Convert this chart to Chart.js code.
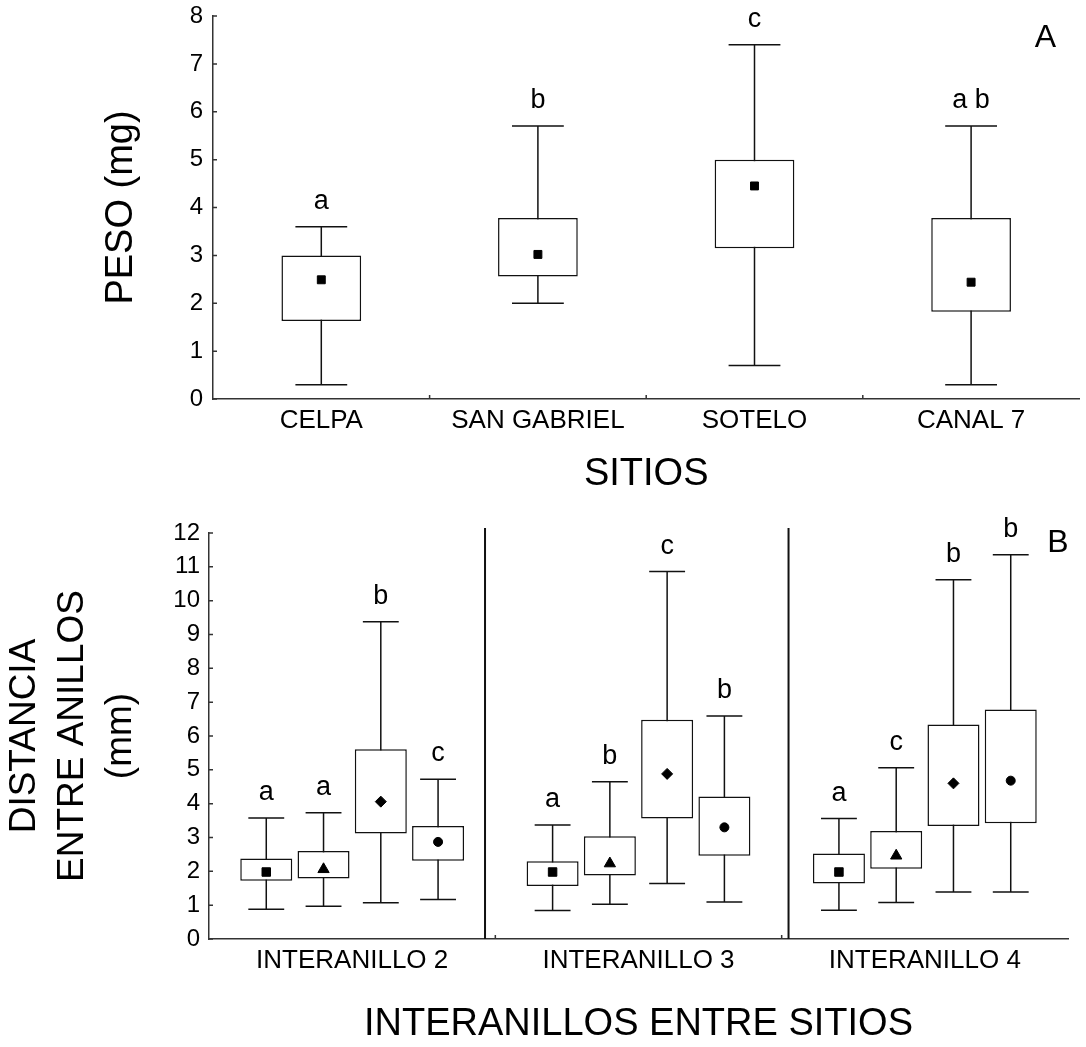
<!DOCTYPE html>
<html lang="es">
<head>
<meta charset="UTF-8">
<title>Peso y distancia entre anillos por sitio</title>
<script src="https://cdn.jsdelivr.net/npm/chart.js"></script>
<style>
  html, body { margin: 0; padding: 0; background: #fff; }
  .panel { position: absolute; left: 0; width: 1086px; }
  #panelA { top: 0; height: 500px; }
  #panelB { top: 490px; height: 557px; }
</style>
</head>
<body>
<div class="panel" id="panelA"><canvas id="pesoChart"></canvas></div>
<div class="panel" id="panelB"><canvas id="distChart"></canvas></div>

<script>
// --- Panel A: peso (mg) por sitio ---
const sitios = ['CELPA', 'SAN GABRIEL', 'SOTELO', 'CANAL 7'];
const pesoMin = [0.3, 2.0, 0.7, 0.3];
const pesoQ1 = [1.63, 2.56, 3.15, 1.82];
const pesoQ3 = [3.0, 3.78, 5.0, 3.78];
const pesoMax = [3.6, 5.7, 7.4, 5.7];
const pesoMedia = [2.49, 3.02, 4.45, 2.44];
const pesoLetras = ['a', 'b', 'c', 'a b'];

// --- Panel B: distancia entre anillos (mm), 4 sitios por interanillo ---
const interanillos = ['INTERANILLO 2', 'INTERANILLO 3', 'INTERANILLO 4'];
const distMin = [0.88, 0.97, 1.07, 1.17, 0.84, 1.03, 1.64, 1.09, 0.85, 1.08, 1.39, 1.39];
const distQ1 = [1.72, 1.79, 3.12, 2.31, 1.57, 1.88, 3.56, 2.46, 1.64, 2.08, 3.34, 3.42];
const distQ3 = [2.38, 2.60, 5.61, 3.34, 2.30, 3.04, 6.48, 4.21, 2.53, 3.19, 6.34, 6.78];
const distMax = [3.58, 3.73, 9.38, 4.72, 3.37, 4.65, 10.86, 6.59, 3.56, 5.06, 10.62, 11.36];
const distMedia = [1.98, 2.06, 4.06, 2.87, 1.98, 2.23, 4.88, 3.30, 1.98, 2.46, 4.60, 4.68];
const distLetras = ['a', 'a', 'b', 'c', 'a', 'b', 'c', 'b', 'a', 'c', 'b', 'b'];
const separadores = [4.82, 10.12];

const FONT = "'Liberation Sans', Arial, sans-serif";
Chart.defaults.font.family = FONT;
Chart.defaults.color = '#000';

// slots on the linear x axis: one empty slot between groups
const porGrupo = sitios.length;
const slot = (g, s) => g * (porGrupo + 1) + s + 1;
const totalSlots = interanillos.length * (porGrupo + 1);
const marcadores = ['rect', 'triangle', 'rectRot', 'circle'];
const radios = [6, 6.5, 5.5, 4.5];

// whiskers, caps, letters over each box, inward ticks, panel letter
function boxPlugin(cfg) {
  return {
    id: 'boxPlot',
    beforeDatasetsDraw(chart) {
      const { ctx } = chart;
      const y = chart.scales.y;
      const bars = chart.getDatasetMeta(0).data;
      ctx.save();
      ctx.strokeStyle = '#111';
      ctx.lineWidth = 1.5;
      bars.forEach((bar, i) => {
        const top = y.getPixelForValue(cfg.max[i]);
        const bot = y.getPixelForValue(cfg.min[i]);
        const half = bar.width * cfg.cap / 2;
        ctx.beginPath();
        ctx.moveTo(bar.x, top); ctx.lineTo(bar.x, bot);
        ctx.moveTo(bar.x - half, top); ctx.lineTo(bar.x + half, top);
        ctx.moveTo(bar.x - half, bot); ctx.lineTo(bar.x + half, bot);
        ctx.stroke();
      });
      ctx.restore();
    },
    afterDraw(chart) {
      const { ctx, chartArea: area } = chart;
      const x = chart.scales.x, y = chart.scales.y;
      const bars = chart.getDatasetMeta(0).data;
      ctx.save();
      ctx.strokeStyle = '#333';
      ctx.lineWidth = 1.5;
      ctx.beginPath();
      y.ticks.forEach(t => {
        const py = y.getPixelForValue(t.value);
        ctx.moveTo(area.left, py); ctx.lineTo(area.left + 4, py);
      });
      cfg.bordes.forEach(v => {
        const px = x.getPixelForValue(v);
        ctx.moveTo(px, area.bottom); ctx.lineTo(px, area.bottom - 4);
      });
      ctx.stroke();

      if (cfg.separadores) {
        ctx.strokeStyle = '#111';
        ctx.lineWidth = 2;
        ctx.beginPath();
        cfg.separadores.forEach(v => {
          const px = x.getPixelForValue(v);
          ctx.moveTo(px, area.top - 5); ctx.lineTo(px, area.bottom);
        });
        ctx.stroke();
      }

      ctx.fillStyle = '#000';
      ctx.font = '27px ' + FONT;
      ctx.textAlign = 'center';
      ctx.textBaseline = 'alphabetic';
      bars.forEach((bar, i) => {
        ctx.fillText(cfg.letras[i], bar.x, y.getPixelForValue(cfg.max[i]) - 18);
      });

      ctx.font = '32px ' + FONT;
      ctx.textBaseline = 'middle';
      ctx.fillText(cfg.panel.text, area.right + cfg.panel.dx, area.top + cfg.panel.dy);
      ctx.restore();
    }
  };
}

const axisBorder = { color: '#333', width: 1.5 };
const noGrid = { display: false, drawTicks: false };

// fixed axis boxes so the plot area sits where it should
const fixX = h => s => { s.height = h; s.paddingLeft = 0; s.paddingRight = 0; };
const fixY = w => s => { s.width = w; s.paddingTop = 0; s.paddingBottom = 0; };

new Chart(document.getElementById('pesoChart'), {
  type: 'bar',
  data: {
    labels: sitios,
    datasets: [{
      data: sitios.map((_, i) => [pesoQ1[i], pesoQ3[i]]),
      backgroundColor: '#fff',
      borderColor: '#111',
      borderWidth: 1.5,
      borderSkipped: false,
      barPercentage: 0.368,
      categoryPercentage: 1,
      order: 2
    }, {
      type: 'line',
      data: pesoMedia,
      showLine: false,
      pointStyle: 'rect',
      pointRadius: 5.6,
      pointBackgroundColor: '#000',
      pointBorderColor: '#000',
      pointBorderWidth: 1,
      order: 1
    }]
  },
  options: {
    responsive: true,
    maintainAspectRatio: false,
    animation: false,
    events: [],
    layout: { padding: { top: 16, right: 2, left: 0, bottom: 0 } },
    plugins: { legend: { display: false }, tooltip: { enabled: false } },
    scales: {
      x: {
        type: 'category',
        offset: true,
        grid: noGrid,
        border: axisBorder,
        ticks: { font: { size: 26 }, padding: 6, maxRotation: 0, autoSkip: false },
        title: { display: true, text: 'SITIOS', font: { size: 38 }, padding: { top: 0, bottom: 3 } },
        afterFit: fixX(101)
      },
      y: {
        min: 0,
        max: 8,
        grid: noGrid,
        border: axisBorder,
        ticks: { stepSize: 1, font: { size: 24 }, padding: 10 },
        title: { display: true, text: 'PESO (mg)', font: { size: 38 }, padding: { top: 99, bottom: 0 } },
        afterFit: fixY(213)
      }
    }
  },
  plugins: [boxPlugin({
    min: pesoMin, max: pesoMax, letras: pesoLetras, cap: 0.65,
    bordes: sitios.slice(1).map((_, i) => i + 0.5),
    panel: { text: 'A', dx: -34, dy: 22 }
  })]
});

const distSlots = distMin.map((_, i) => slot(Math.floor(i / porGrupo), i % porGrupo));

new Chart(document.getElementById('distChart'), {
  type: 'bar',
  data: {
    datasets: [{
      data: distSlots.map((x, i) => ({ x, y: [distQ1[i], distQ3[i]] })),
      backgroundColor: '#fff',
      borderColor: '#111',
      borderWidth: 1.5,
      borderSkipped: false,
      barPercentage: 0.908,
      categoryPercentage: 1,
      order: 2
    }, {
      type: 'line',
      data: distSlots.map((x, i) => ({ x, y: distMedia[i] })),
      showLine: false,
      pointStyle: distSlots.map((_, i) => marcadores[i % porGrupo]),
      pointRadius: distSlots.map((_, i) => radios[i % porGrupo]),
      pointBackgroundColor: '#000',
      pointBorderColor: '#000',
      pointBorderWidth: 1,
      order: 1
    }]
  },
  options: {
    responsive: true,
    maintainAspectRatio: false,
    animation: false,
    events: [],
    layout: { padding: { top: 43, right: 18, left: 0, bottom: 0 } },
    plugins: { legend: { display: false }, tooltip: { enabled: false } },
    scales: {
      x: {
        type: 'linear',
        min: 0,
        max: totalSlots,
        offset: false,
        grid: noGrid,
        border: axisBorder,
        afterBuildTicks(s) {
          s.ticks = interanillos.map((_, g) => ({ value: g * (porGrupo + 1) + (porGrupo + 1) / 2 }));
        },
        ticks: {
          callback: (v, i) => interanillos[i],
          font: { size: 26 }, padding: 6, maxRotation: 0, autoSkip: false
        },
        title: { display: true, text: 'INTERANILLOS ENTRE SITIOS', font: { size: 38 }, padding: { top: 0, bottom: 0 } },
        afterFit: fixX(108)
      },
      y: {
        min: 0,
        max: 12,
        grid: noGrid,
        border: axisBorder,
        ticks: { stepSize: 1, font: { size: 24 }, padding: 9 },
        title: {
          display: true,
          text: ['DISTANCIA', 'ENTRE ANILLOS', '(mm)'],
          font: { size: 37, lineHeight: 1.3 },
          padding: { top: 1, bottom: 0 }
        },
        afterFit: fixY(209)
      }
    }
  },
  plugins: [boxPlugin({
    min: distMin, max: distMax, letras: distLetras, cap: 0.69,
    bordes: interanillos.slice(1).map((_, g) => (g + 1) * (porGrupo + 1)),
    separadores: separadores,
    panel: { text: 'B', dx: -10, dy: 10 }
  })]
});
</script>
</body>
</html>
